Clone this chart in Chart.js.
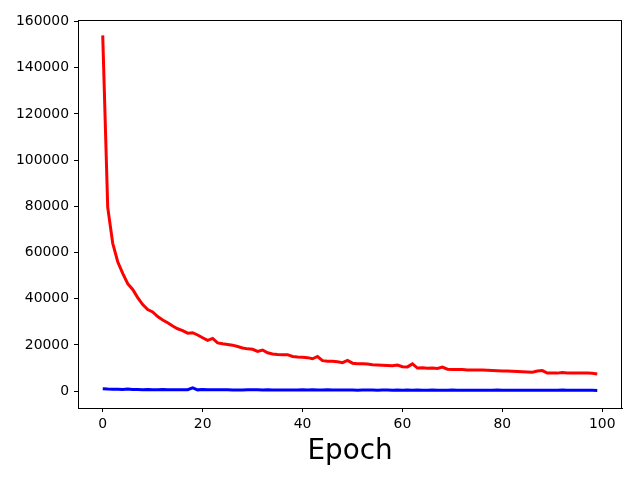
<!DOCTYPE html>
<html>
<head>
<meta charset="utf-8">
<script src="https://cdn.jsdelivr.net/npm/chart.js@4/dist/chart.umd.min.js"></script>
<style>
html,body{margin:0;padding:0;background:#fff;}
#wrap{width:640px;height:480px;}
</style>
</head>
<body>
<div id="wrap"><canvas id="c" width="640" height="480"></canvas></div>
<script>
const epochs = Array.from({length: 100}, (_, i) => i);
const redLoss = [
154000, 79500, 64000, 56000, 51000, 46500, 44000, 40500, 37500, 35300,
34300, 32300, 30800, 29600, 28200, 27000, 26200, 25100, 25300, 24300,
23100, 22000, 22800, 20900, 20500, 20200, 19900, 19300, 18700, 18300,
18100, 17200, 17800, 16600, 16100, 15900, 15800, 15800, 15000, 14800,
14700, 14500, 14000, 15000, 13200, 12900, 12900, 12700, 12300, 13300,
12100, 11900, 11900, 11700, 11400, 11300, 11200, 11100, 11000, 11300,
10600, 10500, 11800, 10000, 10100, 9900, 10000, 9800, 10400, 9500,
9400, 9400, 9400, 9200, 9200, 9100, 9100, 9000, 8900, 8800,
8700, 8700, 8600, 8500, 8400, 8300, 8200, 8700, 8900, 7800,
7800, 7800, 8100, 7900, 7800, 7800, 7900, 7900, 7700, 7400
];
const blueLoss = [
1000, 900, 850, 800, 750, 900, 750, 700, 650, 700,
600, 550, 700, 650, 600, 650, 600, 650, 1400, 550,
700, 600, 650, 600, 550, 600, 500, 450, 500, 550,
600, 550, 500, 600, 500, 450, 500, 500, 450, 500,
550, 500, 550, 500, 500, 550, 500, 450, 450, 500,
450, 400, 450, 500, 450, 400, 450, 450, 400, 450,
400, 450, 400, 450, 400, 400, 450, 400, 400, 400,
450, 400, 400, 350, 400, 400, 350, 400, 400, 450,
400, 350, 400, 400, 350, 350, 400, 400, 350, 350,
350, 400, 450, 350, 350, 400, 350, 350, 350, 300
];
const xTicks = [0, 20, 40, 60, 80, 100];
const yTicks = [0, 20000, 40000, 60000, 80000, 100000, 120000, 140000, 160000];
const xLabel = 'Epoch';

const FONT = "'DejaVu Sans', sans-serif";

const boxPlugin = {
  id: 'box',
  afterDraw(chart) {
    const a = chart.chartArea, ctx = chart.ctx;
    ctx.save();
    ctx.strokeStyle = '#000';
    ctx.lineWidth = 1;
    ctx.strokeRect(Math.round(a.left) + 0.5, Math.round(a.top) + 0.5,
                   Math.round(a.right - a.left) - 1, Math.round(a.bottom - a.top));
    ctx.restore();
  }
};

new Chart(document.getElementById('c'), {
  type: 'line',
  data: {
    labels: epochs,
    datasets: [
      {data: redLoss.map((v, i) => ({x: epochs[i], y: v})), borderColor: '#ff0000', borderWidth: 3, pointRadius: 0, tension: 0, fill: false},
      {data: blueLoss.map((v, i) => ({x: epochs[i], y: v})), borderColor: '#0000ff', borderWidth: 3, pointRadius: 0, tension: 0, fill: false}
    ]
  },
  options: {
    responsive: false,
    animation: false,
    devicePixelRatio: 1,
    layout: {padding: {left: 0, right: 18, top: 20, bottom: 0}},
    plugins: {legend: {display: false}, tooltip: {enabled: false}},
    scales: {
      x: {
        type: 'linear',
        min: -4.95, max: 103.95,
        afterBuildTicks(s) { s.ticks = xTicks.map(v => ({value: v})); },
        afterFit(s) { s.height = 72; },
        grid: {drawOnChartArea: false, drawTicks: true, tickLength: 4, color: '#000', tickColor: '#000'},
        border: {display: true, color: '#000', width: 1},
        ticks: {autoSkip: false, maxRotation: 0, padding: 4, color: '#000', font: {family: FONT, size: 13.9}, callback: v => String(v)},
        title: {display: true, text: xLabel, color: '#000', font: {family: FONT, size: 27.8}, padding: {top: 0, bottom: 12}}
      },
      y: {
        type: 'linear',
        min: -7300, max: 160650,
        afterBuildTicks(s) { s.ticks = yTicks.map(v => ({value: v})); },
        afterFit(s) { s.width = 78; },
        grid: {drawOnChartArea: false, drawTicks: true, tickLength: 4, color: '#000', tickColor: '#000'},
        border: {display: true, color: '#000', width: 1},
        ticks: {autoSkip: false, padding: 5, color: '#000', font: {family: FONT, size: 13.9}, callback: v => String(v)}
      }
    }
  },
  plugins: [boxPlugin]
});
</script>
</body>
</html>
